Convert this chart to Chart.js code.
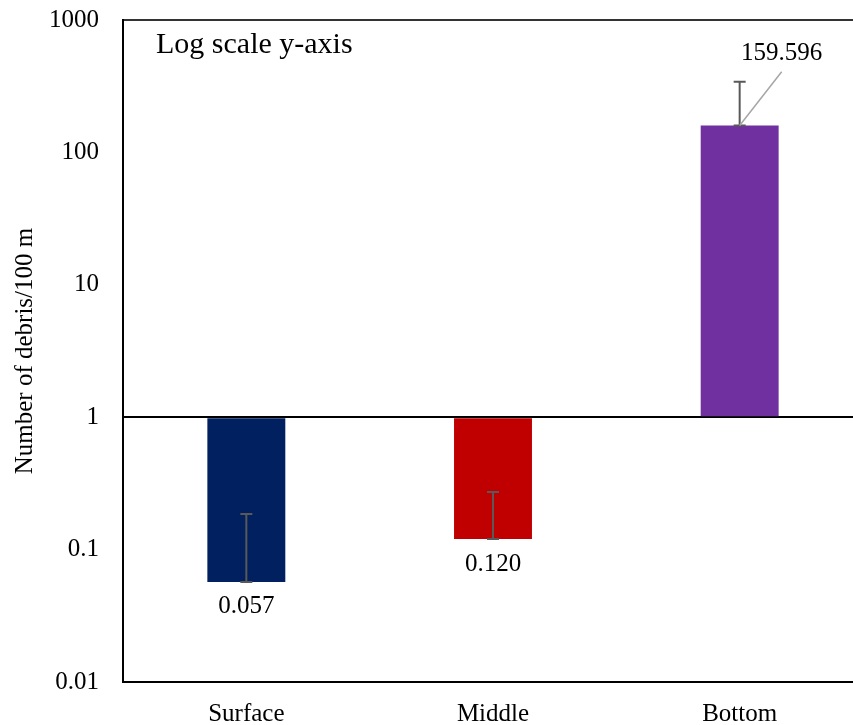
<!DOCTYPE html>
<html lang="en">
  <head>
    <meta charset="utf-8" />
    <title>Debris by depth</title>
    <style>
      html, body { margin: 0; padding: 0; overflow: hidden; background: #fff; }
    </style>
  </head>
  <body>
    <canvas id="canvas" width="880" height="725" style="width:880px;height:725px;display:block"></canvas>

    <script src="https://cdn.jsdelivr.net/npm/chart.js"></script>

    <script>
      const categories = ["Surface", "Middle", "Bottom"];
      const values = [0.057, 0.120, 159.596];
      const errorTops = [0.186, 0.272, 342];
      const valueLabels = ["0.057", "0.120", "159.596"];
      const barColors = ["#002060", "#c00000", "#7030a0"];
      const tickValues = [0.01, 0.1, 1, 10, 100, 1000];
      const tickLabels = ["0.01", "0.1", "1", "10", "100", "1000"];

      const FONT = "'Liberation Serif', 'Times New Roman', serif";

      // error bars (upper side only), value labels and the corner note
      const extras = {
        id: "extras",
        afterDatasetsDraw(chart) {
          const c = chart.ctx;
          const y = chart.scales.y;
          const meta = chart.getDatasetMeta(0);
          c.save();
          meta.data.forEach((bar, i) => {
            const x = bar.x;
            const yv = y.getPixelForValue(values[i]);
            const ye = y.getPixelForValue(errorTops[i]);
            c.strokeStyle = "#595959";
            c.lineWidth = 2;
            c.beginPath();
            c.moveTo(x, yv);
            c.lineTo(x, ye);
            c.moveTo(x - 6, ye);
            c.lineTo(x + 6, ye);
            c.moveTo(x - 6, yv);
            c.lineTo(x + 6, yv);
            c.stroke();

            c.fillStyle = "#000";
            c.font = "25px " + FONT;
            c.textAlign = "center";
            c.textBaseline = "middle";
            if (values[i] < 1) {
              c.fillText(valueLabels[i], x, yv + 25);
            } else {
              const lx = x + 42;
              const ly = ye - 28;
              c.strokeStyle = "#a6a6a6";
              c.lineWidth = 1.5;
              c.beginPath();
              c.moveTo(x, yv);
              c.lineTo(lx, ly + 18);
              c.stroke();
              c.fillText(valueLabels[i], lx, ly);
            }
          });
          c.font = "30px " + FONT;
          c.textAlign = "left";
          c.textBaseline = "alphabetic";
          c.fillStyle = "#000";
          c.fillText("Log scale y-axis", chart.chartArea.left + 33, 53);
          c.restore();
        },
      };

      new Chart(document.getElementById("canvas"), {
        type: "bar",
        data: {
          labels: categories,
          datasets: [
            {
              data: values,
              base: 1,
              backgroundColor: barColors,
              barPercentage: 0.316,
              categoryPercentage: 1,
            },
          ],
        },
        options: {
          responsive: false,
          animation: false,
          layout: { padding: { top: 20, right: 17, left: 0, bottom: 0 } },
          plugins: {
            legend: { display: false },
            tooltip: { enabled: false },
          },
          scales: {
            x: {
              grid: { display: false },
              border: { color: "#000", width: 2 },
              ticks: {
                color: "#000",
                padding: 9,
                font: { family: FONT, size: 25 },
              },
              afterFit: (s) => {
                s.height = 43;
                s.paddingLeft = 0;
                s.paddingRight = 0;
              },
            },
            y: {
              type: "logarithmic",
              min: 0.01,
              max: 1000,
              afterBuildTicks: (s) => {
                s.ticks = tickValues.map((v) => ({ value: v }));
              },
              afterFit: (s) => {
                s.width = 123;
                s.paddingTop = 0;
                s.paddingBottom = 0;
              },
              grid: {
                drawTicks: false,
                lineWidth: 2,
                color: (ctx) =>
                  ctx.tick && ctx.tick.value === 1
                    ? "#000"
                    : ctx.tick && ctx.tick.value === 1000
                    ? "#333"
                    : "rgba(0,0,0,0)",
              },
              border: { color: "#000", width: 2 },
              ticks: {
                color: "#000",
                padding: 24,
                font: { family: FONT, size: 25 },
                callback: (v) => tickLabels[tickValues.indexOf(v)] ?? "",
              },
              title: {
                display: true,
                text: "Number of debris/100 m",
                color: "#000",
                padding: { top: 10, bottom: 0 },
                font: { family: FONT, size: 25 },
              },
            },
          },
        },
        plugins: [extras],
      });
    </script>
  </body>
</html>
